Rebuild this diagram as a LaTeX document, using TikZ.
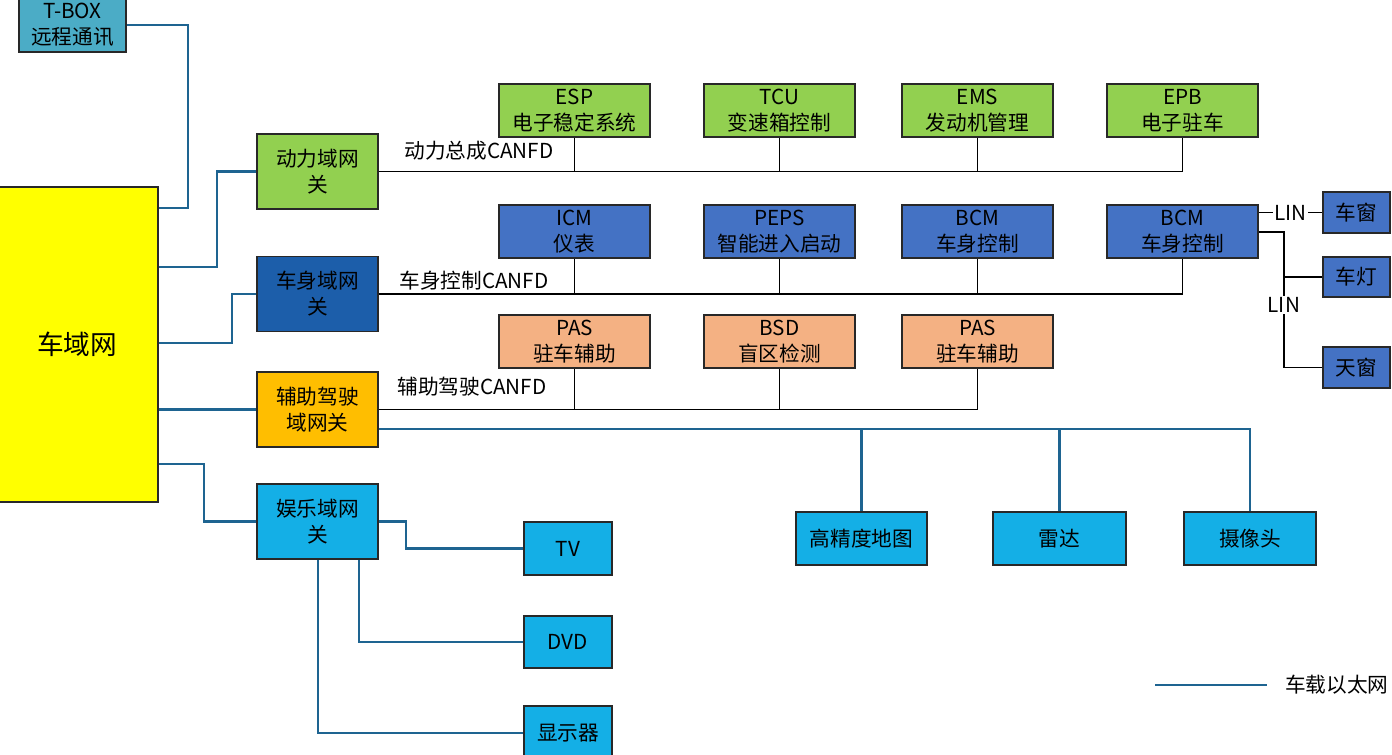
\documentclass[tikz,border=0pt]{standalone}
\usepackage{fontspec}
\setmainfont{Noto Sans CJK SC}
\usetikzlibrary{calc}
\definecolor{tboxc}{RGB}{75,172,198}
\definecolor{yel}{RGB}{255,255,0}
\definecolor{grn}{RGB}{146,208,80}
\definecolor{dblue}{RGB}{28,94,170}
\definecolor{mblue}{RGB}{68,114,196}
\definecolor{orng}{RGB}{255,190,0}
\definecolor{peach}{RGB}{244,177,131}
\definecolor{lblue}{RGB}{20,175,230}
\definecolor{ethc}{RGB}{30,100,145}
\definecolor{bord}{RGB}{40,40,40}
\tikzset{
  box/.style={draw=bord, line width=1.3pt, align=center, inner sep=0pt,
    font=\fontsize{15.5}{19.5}\selectfont},
  sz/.style 2 args={minimum width=#1*0.75pt, minimum height=#2*0.75pt},
  eth/.style={draw=ethc, line width=1.7pt},
  can/.style={draw=black, line width=1.2pt},
  lbl/.style={font=\fontsize{15.5}{19.5}\selectfont, inner sep=1pt},
}
\begin{document}
\begin{tikzpicture}[x=0.75pt, y=-0.75pt]
\useasboundingbox (0,0) rectangle (1392,755);
\clip (0,0) rectangle (1392,755);
% nodes
\node[box, sz={107}{54}, fill=tboxc] (tbox) at (72.5,25) {T-BOX\\远程通讯};
\node[box, sz={162}{315}, fill=yel, font=\fontsize{20}{24}\selectfont] (cyw) at (77,344.5) {车域网};
\node[box, sz={121}{75}, fill=grn] (dl) at (317.5,171.5) {动力域网\\关};
\node[box, sz={121}{75}, fill=dblue] (cs) at (317.5,294) {车身域网\\关};
\node[box, sz={121}{75}, fill=orng] (fz) at (317.5,409.5) {辅助驾驶\\域网关};
\node[box, sz={121}{75}, fill=lblue] (yl) at (317.5,521.5) {娱乐域网\\关};
\node[box, sz={88}{53}, fill=lblue] (tv) at (568,548.5) {TV};
\node[box, sz={88}{52}, fill=lblue] (dvd) at (568,642) {DVD};
\node[box, sz={88}{54}, fill=lblue] (xsq) at (568,733) {显示器};
% top row
\node[box, sz={151}{53}, fill=grn] (esp) at (574.5,110.5) {ESP\\电子稳定系统};
\node[box, sz={151}{53}, fill=grn] (tcu) at (779.5,110.5) {TCU\\变速箱控制};
\node[box, sz={151}{53}, fill=grn] (ems) at (977.5,110.5) {EMS\\发动机管理};
\node[box, sz={151}{53}, fill=grn] (epb) at (1182.5,110.5) {EPB\\电子驻车};
\node[box, sz={151}{53}, fill=mblue] (icm) at (574.5,231.5) {ICM\\仪表};
\node[box, sz={151}{53}, fill=mblue] (peps) at (779.5,231.5) {PEPS\\智能进入启动};
\node[box, sz={151}{53}, fill=mblue] (bcm) at (977.5,231.5) {BCM\\车身控制};
\node[box, sz={151}{53}, fill=mblue] (bcm2) at (1182.5,231.5) {BCM\\车身控制};
\node[box, sz={151}{53}, fill=peach] (pas) at (574.5,341.5) {PAS\\驻车辅助};
\node[box, sz={151}{53}, fill=peach] (bsd) at (779.5,341.5) {BSD\\盲区检测};
\node[box, sz={151}{53}, fill=peach] (pas2) at (977.5,341.5) {PAS\\驻车辅助};
% LIN boxes
\node[box, sz={67}{41}, fill=mblue] (cw) at (1356.5,212.5) {车窗};
\node[box, sz={67}{40}, fill=mblue] (cd) at (1356.5,277) {车灯};
\node[box, sz={67}{41}, fill=mblue] (tc) at (1356.5,367.5) {天窗};
% bottom sensors
\node[box, sz={131}{53}, fill=lblue] (gjd) at (861.5,538.5) {高精度地图};
\node[box, sz={133}{53}, fill=lblue] (ld) at (1059.5,538.5) {雷达};
\node[box, sz={132}{53}, fill=lblue] (sxt) at (1250,538.5) {摄像头};

% ethernet connectors
\draw[eth] (tbox.east) -- ++(61,0) |- ($(cyw.north east)+(0,22)$);
\draw[eth] ($(cyw.north east)+(0,81)$) -- ++(58,0) |- (dl.west);
\draw[eth] ($(cyw.north east)+(0,157)$) -- ++(73,0) |- (cs.west);
\draw[eth] (cyw.east |- fz.west) -- (fz.west);
\draw[eth] ($(cyw.north east)+(0,278)$) -- ++(45,0) |- (yl.west);
\draw[eth] (yl.east) -- ++(27,0) |- (tv.west);
\draw[eth] ($(yl.south)+(41.5,0)$) |- (dvd.west);
\draw[eth] ($(yl.south)+(0.5,0)$) |- (xsq.west);
\coordinate (fzE) at ($(fz.east)+(0,19.5)$);
\draw[eth] (fzE) -- (fzE -| sxt.north) -- (sxt.north);
\draw[eth] (fzE -| gjd.north) -- (gjd.north);
\draw[eth] (fzE -| ld.north) -- (ld.north);

% CAN buses
\draw[can] (dl.east) -- (dl.east -| epb.south) -- (epb.south);
\draw[can] (dl.east -| esp.south) -- (esp.south);
\draw[can] (dl.east -| tcu.south) -- (tcu.south);
\draw[can] (dl.east -| ems.south) -- (ems.south);
\draw[can] (cs.east) -- (cs.east -| bcm2.south) -- (bcm2.south);
\draw[can] (cs.east -| icm.south) -- (icm.south);
\draw[can] (cs.east -| peps.south) -- (peps.south);
\draw[can] (cs.east -| bcm.south) -- (bcm.south);
\draw[can] (fz.east) -- (fz.east -| pas2.south) -- (pas2.south);
\draw[can] (fz.east -| pas.south) -- (pas.south);
\draw[can] (fz.east -| bsd.south) -- (bsd.south);
\node[lbl, anchor=west] (l1) at ($(dl.east)+(24,-21)$) {动力总成CANFD};
\node[lbl, anchor=west] (l2) at ($(cs.east)+(19,-13)$) {车身控制CANFD};
\node[lbl, anchor=west] (l3) at ($(fz.east)+(17,-23)$) {辅助驾驶CANFD};

% LIN
\draw[can] (bcm2.east |- cw.west) -- node[lbl, fill=white] {LIN} (cw.west);
\draw[can] ($(bcm2.east)+(0,0.5)$) -- ++(25,0) coordinate (lj) -- (lj |- tc.west) -- (tc.west);
\draw[can] (lj |- cd.west) -- (cd.west);
\node[lbl, fill=white] (lin2) at ($(lj)+(0,73)$) {LIN};

% legend
\coordinate (lg1) at (1155,685);
\coordinate (lg2) at (1267,685);
\draw[eth] (lg1) -- (lg2);
\node[lbl, anchor=east] (lgt) at (1390,685) {车载以太网};
\end{tikzpicture}
\end{document}
